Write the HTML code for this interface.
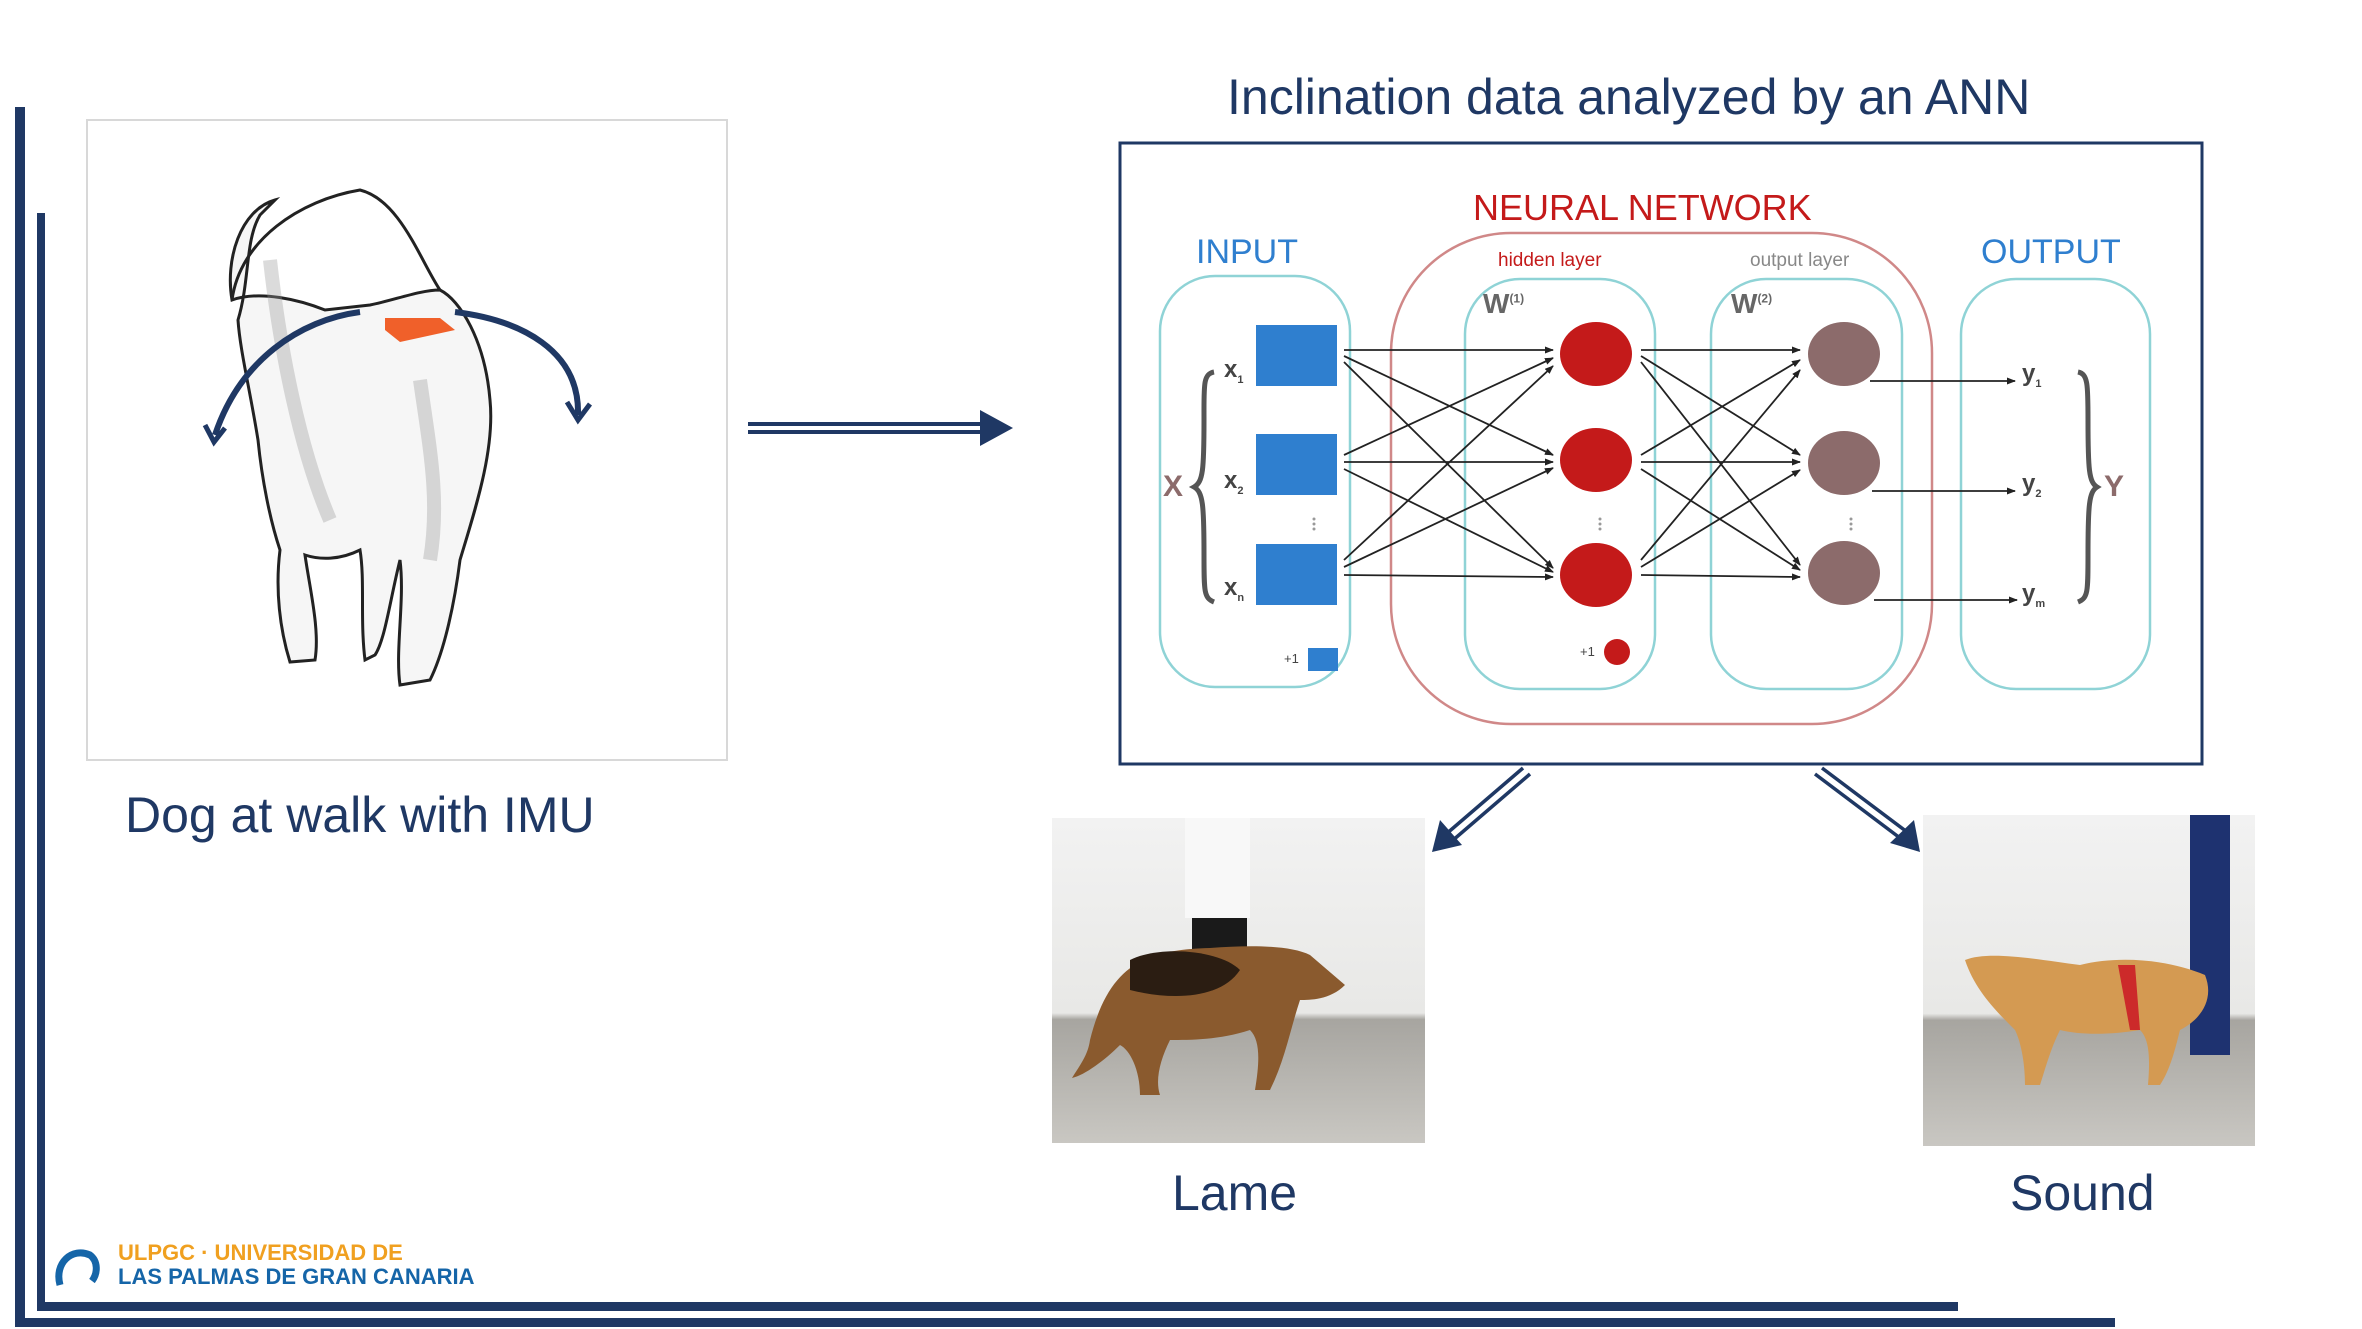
<!DOCTYPE html>
<html><head><meta charset="utf-8"><style>
html,body{margin:0;padding:0;background:#fff;}
body{width:2362px;height:1329px;position:relative;overflow:hidden;font-family:"Liberation Sans",sans-serif;}
.t{position:absolute;white-space:nowrap;color:#1f3864;}
</style></head><body>
<svg width="2362" height="1329" style="position:absolute;left:0;top:0">
<defs>
<marker id="ah" markerWidth="9" markerHeight="7" refX="8" refY="3.5" orient="auto" markerUnits="userSpaceOnUse"><path d="M0,0 L9,3.5 L0,7 z" fill="#222"/></marker>
<linearGradient id="wall1" x1="0" y1="0" x2="0" y2="1"><stop offset="0" stop-color="#f2f2f2"/><stop offset="0.6" stop-color="#e8e8e6"/><stop offset="0.62" stop-color="#a7a5a0"/><stop offset="1" stop-color="#c9c7c2"/></linearGradient>
</defs>
<rect x="15" y="107" width="10" height="1220" fill="#1f3864"/>
<rect x="15" y="1318" width="2100" height="9" fill="#1f3864"/>
<rect x="37" y="213" width="8" height="1098" fill="#1f3864"/>
<rect x="37" y="1302" width="1921" height="9" fill="#1f3864"/>
<rect x="87" y="120" width="640" height="640" fill="#fff" stroke="#d8d8d8" stroke-width="2"/>
<path d="M275,200 C240,210 225,260 232,300 C260,290 300,300 325,310 L370,305 C395,300 420,290 440,290 C460,300 485,340 490,400 C495,450 475,510 460,560 C455,600 445,650 430,680 L400,685 C395,650 405,600 400,560 C390,600 385,640 375,655 L365,660 C360,620 365,580 360,550 C340,560 320,560 305,555 C310,590 320,630 315,660 L290,662 C280,630 275,590 280,550 C270,520 262,480 258,440 C250,390 240,350 238,320 C250,280 245,240 260,215 Z" fill="#f6f6f6" stroke="#222" stroke-width="3"/>
<path d="M270,260 C280,350 300,450 330,520 M420,380 C430,450 440,500 430,560" stroke="#999" stroke-width="14" fill="none" opacity="0.35"/>
<path d="M232,300 C240,240 300,200 360,190 C400,200 420,260 440,290" fill="none" stroke="#222" stroke-width="3"/>
<polygon points="385,318 440,318 455,330 400,342 385,330" fill="#f0602a"/>
<path d="M360,312 C300,320 240,360 215,435" fill="none" stroke="#1f3864" stroke-width="6"/>
<path d="M205,425 L214,442 L225,428" fill="none" stroke="#1f3864" stroke-width="5"/>
<path d="M455,312 C520,320 580,350 578,415" fill="none" stroke="#1f3864" stroke-width="6"/>
<path d="M567,402 L578,420 L590,404" fill="none" stroke="#1f3864" stroke-width="5"/>
<line x1="748" y1="424" x2="990" y2="424" stroke="#1f3864" stroke-width="4"/>
<line x1="748" y1="432" x2="990" y2="432" stroke="#1f3864" stroke-width="4"/>
<polygon points="980,410 1013,428 980,446" fill="#1f3864"/>
<!-- NN box -->
<rect x="1120" y="143" width="1082" height="621" fill="#fff" stroke="#1f3864" stroke-width="3"/>
<rect x="1391" y="233" width="541" height="491" rx="120" fill="none" stroke="#d08888" stroke-width="2.5"/>
<rect x="1160" y="276" width="190" height="411" rx="55" fill="none" stroke="#8fd3d6" stroke-width="2.5"/>
<rect x="1465" y="279" width="190" height="410" rx="55" fill="none" stroke="#8fd3d6" stroke-width="2.5"/>
<rect x="1711" y="279" width="191" height="410" rx="55" fill="none" stroke="#8fd3d6" stroke-width="2.5"/>
<rect x="1961" y="279" width="189" height="410" rx="55" fill="none" stroke="#8fd3d6" stroke-width="2.5"/>
<g stroke="#222" stroke-width="1.8" marker-end="url(#ah)">
<line x1="1344" y1="350" x2="1553" y2="350"/><line x1="1344" y1="356" x2="1553" y2="455"/><line x1="1344" y1="362" x2="1553" y2="568"/>
<line x1="1344" y1="455" x2="1553" y2="358"/><line x1="1344" y1="462" x2="1553" y2="462"/><line x1="1344" y1="469" x2="1553" y2="572"/>
<line x1="1344" y1="560" x2="1553" y2="366"/><line x1="1344" y1="567" x2="1553" y2="468"/><line x1="1344" y1="575" x2="1553" y2="577"/>
<line x1="1641" y1="350" x2="1800" y2="350"/><line x1="1641" y1="356" x2="1800" y2="455"/><line x1="1641" y1="362" x2="1800" y2="565"/>
<line x1="1641" y1="455" x2="1800" y2="360"/><line x1="1641" y1="462" x2="1800" y2="462"/><line x1="1641" y1="469" x2="1800" y2="570"/>
<line x1="1641" y1="560" x2="1800" y2="370"/><line x1="1641" y1="567" x2="1800" y2="470"/><line x1="1641" y1="575" x2="1800" y2="577"/>
<line x1="1870" y1="381" x2="2015" y2="381"/><line x1="1872" y1="491" x2="2015" y2="491"/><line x1="1874" y1="600" x2="2017" y2="600"/>
</g>
<rect x="1256" y="325" width="81" height="61" fill="#2f7fcf"/>
<rect x="1256" y="434" width="81" height="61" fill="#2f7fcf"/>
<rect x="1256" y="544" width="81" height="61" fill="#2f7fcf"/>
<rect x="1308" y="648" width="30" height="23" fill="#2f7fcf"/>
<ellipse cx="1596" cy="354" rx="36" ry="32" fill="#c41a1a"/>
<ellipse cx="1596" cy="460" rx="36" ry="32" fill="#c41a1a"/>
<ellipse cx="1596" cy="575" rx="36" ry="32" fill="#c41a1a"/>
<circle cx="1617" cy="652" r="13" fill="#c41a1a"/>
<ellipse cx="1844" cy="354" rx="36" ry="32" fill="#8c6b6b"/>
<ellipse cx="1844" cy="463" rx="36" ry="32" fill="#8c6b6b"/>
<ellipse cx="1844" cy="573" rx="36" ry="32" fill="#8c6b6b"/>
<g fill="#999"><circle cx="1314" cy="519" r="1.5"/><circle cx="1314" cy="524" r="1.5"/><circle cx="1314" cy="529" r="1.5"/>
<circle cx="1600" cy="519" r="1.5"/><circle cx="1600" cy="524" r="1.5"/><circle cx="1600" cy="529" r="1.5"/>
<circle cx="1851" cy="519" r="1.5"/><circle cx="1851" cy="524" r="1.5"/><circle cx="1851" cy="529" r="1.5"/></g>
<path d="M1214,372 C1203,374 1204,385 1204,420 C1204,470 1203,482 1194,487 C1203,492 1204,505 1204,555 C1204,592 1204,598 1214,602" fill="none" stroke="#555" stroke-width="5"/>
<path d="M2078,372 C2088,374 2088,385 2088,420 C2088,470 2089,482 2097,487 C2089,492 2088,505 2088,555 C2088,592 2088,598 2078,602" fill="none" stroke="#555" stroke-width="5"/>
<g stroke="#1f3864" stroke-width="3.5">
<line x1="1523" y1="768" x2="1445" y2="835"/><line x1="1530" y1="774" x2="1452" y2="841"/>
<line x1="1815" y1="774" x2="1900" y2="838"/><line x1="1822" y1="768" x2="1907" y2="832"/>
</g>
<polygon points="1432,852 1440,820 1462,845" fill="#1f3864"/>
<polygon points="1920,852 1890,843 1914,820" fill="#1f3864"/>
<rect x="1052" y="818" width="373" height="325" fill="url(#wall1)"/>
<rect x="1185" y="818" width="65" height="100" fill="#f8f8f8"/>
<rect x="1192" y="918" width="55" height="45" fill="#1a1a1a"/>
<path d="M1090,1040 C1110,960 1150,950 1210,948 C1250,945 1290,945 1310,955 L1345,985 C1330,1000 1310,1000 1300,1000 C1290,1030 1285,1060 1270,1090 L1255,1090 C1260,1060 1260,1040 1250,1030 C1220,1040 1190,1040 1170,1040 C1160,1060 1155,1080 1160,1095 L1140,1095 C1140,1070 1130,1050 1120,1045 C1105,1060 1085,1075 1072,1078 C1080,1065 1088,1055 1090,1040 Z" fill="#8a5a2e"/>
<path d="M1130,960 C1160,945 1220,950 1240,970 C1220,1000 1170,1000 1130,990 Z" fill="#2b1d12"/>
<rect x="1923" y="815" width="332" height="331" fill="url(#wall1)"/>
<rect x="2190" y="815" width="40" height="240" fill="#1e3270"/>
<path d="M1965,960 C1990,950 2040,960 2080,965 C2120,955 2170,960 2205,975 C2215,1000 2200,1020 2180,1030 C2175,1050 2170,1070 2160,1085 L2148,1085 C2150,1060 2150,1040 2140,1030 C2110,1035 2080,1035 2060,1030 C2050,1050 2045,1070 2040,1085 L2025,1085 C2025,1060 2020,1040 2015,1030 C1995,1010 1975,990 1965,960 Z" fill="#d49a52"/>
<path d="M2118,965 L2130,1030 L2140,1030 L2135,965 Z" fill="#cc2a2a"/>
</svg>
<div class="t" style="left:1227px;top:68px;font-size:50px;">Inclination data analyzed by an ANN</div>
<div class="t" style="left:125px;top:786px;font-size:50px;">Dog at walk with IMU</div>
<div class="t" style="left:1172px;top:1164px;font-size:50px;">Lame</div>
<div class="t" style="left:2010px;top:1164px;font-size:50px;">Sound</div>
<div class="t" style="left:1473px;top:187px;font-size:36px;color:#c41a1a;">NEURAL NETWORK</div>
<div class="t" style="left:1196px;top:233px;font-size:34px;color:#2f7fcf;">INPUT</div>
<div class="t" style="left:1981px;top:233px;font-size:34px;color:#2f7fcf;">OUTPUT</div>
<div class="t" style="left:1498px;top:250px;font-size:19px;color:#c41a1a;">hidden layer</div>
<div class="t" style="left:1750px;top:250px;font-size:19px;color:#888;">output layer</div>
<div class="t" style="left:1483px;top:288px;font-size:28px;color:#666;font-weight:bold;">W<sup style="font-size:12px">(1)</sup></div>
<div class="t" style="left:1731px;top:288px;font-size:28px;color:#666;font-weight:bold;">W<sup style="font-size:12px">(2)</sup></div>
<div class="t" style="left:1224px;top:356px;font-size:24px;color:#444;font-weight:bold;">x<sub style="font-size:11px">1</sub></div>
<div class="t" style="left:1224px;top:467px;font-size:24px;color:#444;font-weight:bold;">x<sub style="font-size:11px">2</sub></div>
<div class="t" style="left:1224px;top:574px;font-size:24px;color:#444;font-weight:bold;">x<sub style="font-size:11px">n</sub></div>
<div class="t" style="left:2022px;top:360px;font-size:24px;color:#444;font-weight:bold;">y<sub style="font-size:11px">1</sub></div>
<div class="t" style="left:2022px;top:470px;font-size:24px;color:#444;font-weight:bold;">y<sub style="font-size:11px">2</sub></div>
<div class="t" style="left:2022px;top:580px;font-size:24px;color:#444;font-weight:bold;">y<sub style="font-size:11px">m</sub></div>
<div class="t" style="left:1163px;top:470px;font-size:30px;color:#8c6b6b;font-weight:bold;">X</div>
<div class="t" style="left:2104px;top:470px;font-size:30px;color:#8c6b6b;font-weight:bold;">Y</div>
<div class="t" style="left:1284px;top:651px;font-size:13px;color:#444;">+1</div>
<div class="t" style="left:1580px;top:644px;font-size:13px;color:#444;">+1</div>
<svg width="50" height="50" style="position:absolute;left:52px;top:1243px"><path d="M8,42 C2,20 20,4 38,12 C46,18 46,30 40,38" fill="none" stroke="#1565a8" stroke-width="7"/></svg>
<div class="t" style="left:118px;top:1240px;font-size:22px;font-weight:bold;color:#f0a020;">ULPGC · UNIVERSIDAD DE</div>
<div class="t" style="left:118px;top:1264px;font-size:22px;font-weight:bold;color:#1565a8;">LAS PALMAS DE GRAN CANARIA</div>
</body></html>
